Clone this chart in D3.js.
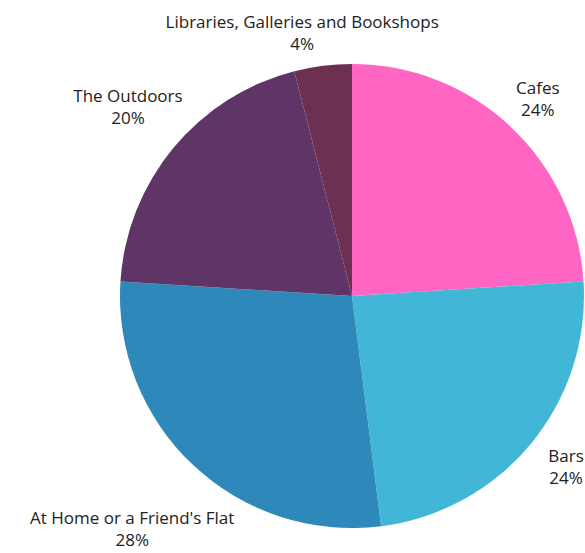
<!DOCTYPE html>
<html>
<head>
<meta charset="utf-8">
<script src="https://cdn.jsdelivr.net/npm/d3@7"></script>
<style>
  html, body { margin: 0; padding: 0; background: #ffffff; }
  svg { display: block; }
</style>
</head>
<body>
<svg id="chart" width="585" height="553"></svg>
<script>
// Data
const categories = ["Cafes", "Bars", "At Home or a Friend's Flat", "The Outdoors", "Libraries, Galleries and Bookshops"];
const values = [24, 24, 28, 20, 4];
const colors = ["#FF66C4", "#41B6D6", "#2E88B9", "#5E3566", "#6E3051"];

// Layout (label nudges relative to label arc)
const labelNudge = [[1, 0], [6, -1], [-35, 36], [-16, -17], [-16, 5]];

const cx = 352, cy = 296, R = 232, labelR = 270;

const svg = d3.select("#chart");
const g = svg.append("g").attr("transform", `translate(${cx},${cy})`);

const pie = d3.pie().value(d => d.value).sort(null);
const data = categories.map((c, i) => ({ name: c, value: values[i], color: colors[i] }));
const arcs = pie(data);

const arc = d3.arc().innerRadius(0).outerRadius(R);

g.selectAll("path.slice")
  .data(arcs)
  .enter().append("path")
  .attr("class", "slice")
  .attr("d", arc)
  .attr("fill", d => d.data.color);

const total = d3.sum(values);
const labelArc = d3.arc().innerRadius(labelR).outerRadius(labelR);

arcs.forEach((a, i) => {
  const [lx, ly] = labelArc.centroid(a);
  const x = lx + labelNudge[i][0];
  const y = ly + labelNudge[i][1];
  const t = g.append("text")
    .attr("x", x)
    .attr("y", y)
    .attr("text-anchor", "middle")
    .attr("font-family", "'Open Sans', 'Noto Sans', sans-serif")
    .attr("font-size", 17)
    .attr("fill", "#222222");
  t.append("tspan").attr("x", x).attr("dy", -5).text(a.data.name);
  t.append("tspan").attr("x", x).attr("dy", 22)
    .text(Math.round(a.data.value / total * 100) + "%");
});
</script>
</body>
</html>
